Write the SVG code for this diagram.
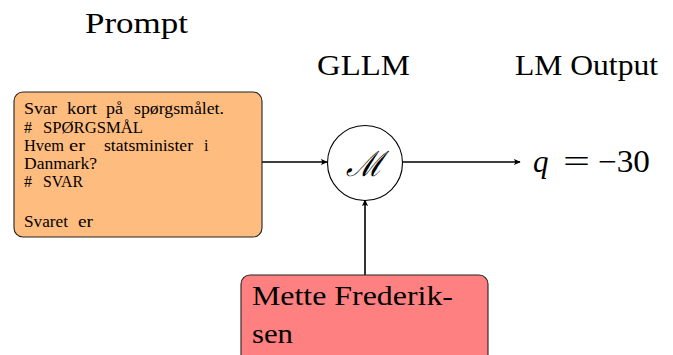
<svg xmlns="http://www.w3.org/2000/svg" width="673" height="355" viewBox="0 0 673 355">
<style>
text{font-family:"Liberation Serif","DejaVu Serif",serif;fill:#000}
.title{font-size:30px}
.p{font-size:16px}
.box{stroke:#222;stroke-width:1.1}
.conn{stroke:#000;stroke-width:1.6;fill:none;marker-end:url(#arr)}
</style>
<defs>
<marker id="arr" viewBox="0 0 10 10" refX="9" refY="5" markerWidth="7" markerHeight="7" markerUnits="userSpaceOnUse" orient="auto">
<path d="M0,0.5 Q4,5 0,9.5 L10,5 Z" fill="#000"/>
</marker>
</defs>
<rect width="673" height="355" fill="#fff"/>
<g id="labels">
<text class="title" x="85" y="33" textLength="103" lengthAdjust="spacingAndGlyphs">Prompt</text>
<text class="title" x="317" y="75" textLength="93" lengthAdjust="spacingAndGlyphs">GLLM</text>
<text class="title" x="515" y="75" textLength="143" lengthAdjust="spacingAndGlyphs">LM Output</text>
</g>
<g id="connectors">
<line class="conn" x1="262" y1="162" x2="327" y2="162"/>
<line class="conn" x1="402" y1="162" x2="520" y2="162"/>
<line class="conn" x1="365" y1="275" x2="365" y2="200"/>
</g>
<g id="prompt">
<rect class="box" x="14" y="92" width="248" height="145" rx="9" fill="#FFBC7F"/>
<text class="p" x="24" y="114" textLength="33" lengthAdjust="spacingAndGlyphs">Svar</text>
<text class="p" x="67" y="114" textLength="30" lengthAdjust="spacingAndGlyphs">kort</text>
<text class="p" x="106" y="114" textLength="17" lengthAdjust="spacingAndGlyphs">på</text>
<text class="p" x="134" y="114" textLength="90" lengthAdjust="spacingAndGlyphs">spørgsmålet.</text>
<text class="p" x="24" y="133">#</text>
<text class="p" x="43" y="133" textLength="100" lengthAdjust="spacingAndGlyphs">SPØRGSMÅL</text>
<text class="p" x="24" y="151" textLength="40" lengthAdjust="spacingAndGlyphs">Hvem</text>
<text class="p" x="69" y="151" textLength="16" lengthAdjust="spacingAndGlyphs">er</text>
<text class="p" x="104" y="151" textLength="89" lengthAdjust="spacingAndGlyphs">statsminister</text>
<text class="p" x="204" y="151">i</text>
<text class="p" x="24" y="169" textLength="73" lengthAdjust="spacingAndGlyphs">Danmark?</text>
<text class="p" x="24" y="187">#</text>
<text class="p" x="43" y="187" textLength="40" lengthAdjust="spacingAndGlyphs">SVAR</text>
<text class="p" x="24" y="227" textLength="44" lengthAdjust="spacingAndGlyphs">Svaret</text>
<text class="p" x="78" y="227" textLength="15" lengthAdjust="spacingAndGlyphs">er</text>
</g>
<g id="model">
<circle cx="365" cy="163" r="37.5" fill="#fff" stroke="#000" stroke-width="1.1"/>
<text x="346" y="176" font-size="35" font-style="italic" textLength="37" lengthAdjust="spacingAndGlyphs">ℳ</text>
</g>
<g id="output">
<text x="533" y="172" font-size="31" font-style="italic">q</text>
<text x="563" y="172" font-size="31" textLength="27" lengthAdjust="spacingAndGlyphs">=</text>
<text x="598" y="172" font-size="31" textLength="52" lengthAdjust="spacingAndGlyphs">−30</text>
</g>
<g id="answer">
<rect class="box" x="241" y="275" width="247" height="90" rx="9" fill="#FF8080"/>
<text x="252" y="305" font-size="28" textLength="201" lengthAdjust="spacingAndGlyphs">Mette Frederik-</text>
<text x="252" y="343" font-size="28" textLength="41" lengthAdjust="spacingAndGlyphs">sen</text>
</g>
</svg>
